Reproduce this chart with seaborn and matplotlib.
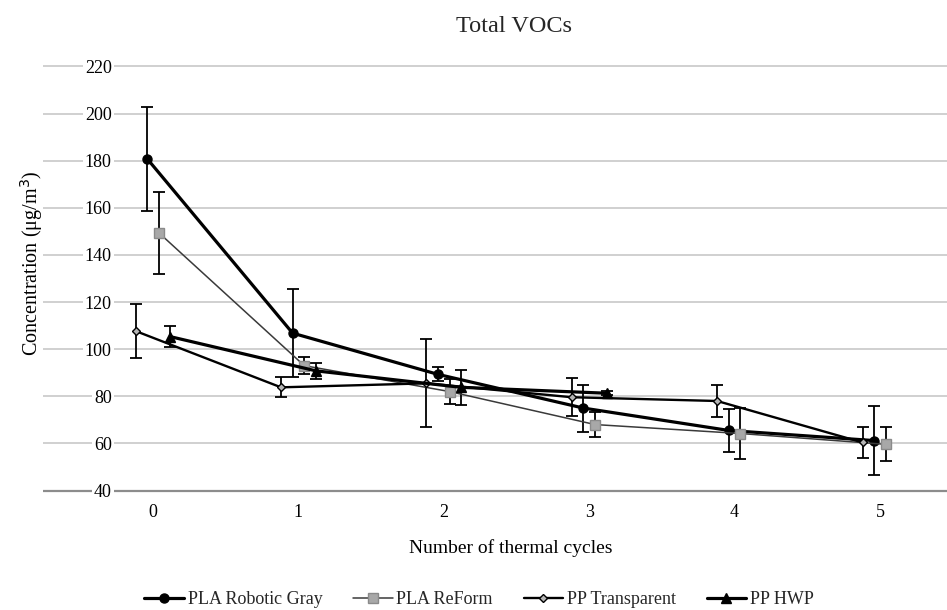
import matplotlib
matplotlib.use("Agg")
import matplotlib.pyplot as plt
import seaborn as sns
import pandas as pd

# values
cycles = [0, 1, 2, 3, 4, 5]
series_names = ["PLA Robotic Gray", "PLA ReForm", "PP Transparent", "PP HWP"]

robotic_gray = [180.8, 106.8, 89.3, 75.0, 65.5, 61.2]
robotic_gray_err = [22.0, 18.7, 3.0, 10.0, 9.0, 14.8]

reform = [149.4, 93.0, 82.0, 68.0, 64.2, 59.6]
reform_err = [17.5, 3.6, 5.3, 5.3, 10.7, 7.2]

pp_transparent = [107.7, 83.8, 85.5, 79.6, 78.0, 60.4]
pp_transparent_err = [11.5, 4.2, 18.7, 8.0, 7.0, 6.6]

pp_hwp_cycles = [0, 1, 2, 3]
pp_hwp = [105.3, 90.8, 83.8, 81.3]
pp_hwp_err = [4.5, 3.3, 7.5, 0.8]

y_ticks = [40, 60, 80, 100, 120, 140, 160, 180, 200, 220]

sns.set_theme(style="white")
plt.rcParams["font.family"] = ["Liberation Serif", "DejaVu Serif"]

fig = plt.figure(figsize=(9.47, 6.10), dpi=100)
ax = fig.add_axes([0.0454, 0.192, 0.9546, 0.7029])

styles = {
    "PLA Robotic Gray": dict(off=-0.04, color="black", lw=2.3, marker="o", ms=6.5, mfc="black", mec="black"),
    "PLA ReForm": dict(off=0.04, color="#3a3a3a", lw=1.1, marker="s", ms=6.5, mfc="#a8a8a8", mec="#8a8a8a"),
    "PP Transparent": dict(off=-0.12, color="black", lw=1.7, marker="D", ms=4.5, mfc="#b5b5b5", mec="black"),
    "PP HWP": dict(off=0.12, color="black", lw=2.3, marker="^", ms=7.5, mfc="black", mec="black"),
}

data = {
    "PLA Robotic Gray": (cycles, robotic_gray, robotic_gray_err),
    "PLA ReForm": (cycles, reform, reform_err),
    "PP Transparent": (cycles, pp_transparent, pp_transparent_err),
    "PP HWP": (pp_hwp_cycles, pp_hwp, pp_hwp_err),
}

for name in series_names:
    xs, ys, es = data[name]
    st = styles[name]
    df = pd.DataFrame({"x": [x + st["off"] for x in xs], "y": ys, "err": es})
    ax.errorbar(df["x"], df["y"], yerr=df["err"], fmt="none", ecolor="black",
                elinewidth=1.3, capsize=4, capthick=1.3, zorder=2)
    sns.lineplot(data=df, x="x", y="y", ax=ax, color=st["color"], linewidth=st["lw"],
                 marker=st["marker"], markersize=st["ms"], markerfacecolor=st["mfc"],
                 markeredgecolor=st["mec"], markeredgewidth=1.0, label=name, zorder=3)

if ax.get_legend() is not None:
    ax.get_legend().remove()

ax.set_xlim(-0.757, 5.461)
ax.set_ylim(39, 221)
ax.set_xticks(cycles)
ax.set_xticklabels([str(c) for c in cycles], fontsize=13)
ax.set_yticks(y_ticks)
ax.set_yticklabels([str(v) for v in y_ticks], fontsize=13)
for lab in ax.get_yticklabels():
    lab.set_bbox(dict(facecolor="white", edgecolor="none", pad=1.5))

ax.set_axisbelow(True)
ax.yaxis.grid(True, color="#c4c4c4", linewidth=1.1)
ax.xaxis.grid(False)
ax.get_ygridlines()[0].set_color("#8c8c8c")
ax.get_ygridlines()[0].set_linewidth(1.6)
for s in ax.spines.values():
    s.set_visible(False)
ax.tick_params(axis="y", length=0, pad=-49.5, colors="black")
ax.tick_params(axis="x", length=0, pad=8, colors="black")

ax.set_xlabel("Number of thermal cycles", fontsize=14, color="black")
ax.xaxis.set_label_coords(0.5177, -0.1075)
ax.set_ylabel("Concentration (μg/m$^3$)", fontsize=14.5, color="black")
ax.yaxis.set_label_coords(0.002, 0.535)

fig.text(514 / 947, 1 - 27 / 610, "Total VOCs", ha="center", va="center", fontsize=17.5)

handles, labels = ax.get_legend_handles_labels()
fig.legend(handles, labels, loc="center", bbox_to_anchor=(479 / 947, 1 - 600 / 610),
           ncol=4, frameon=False, fontsize=13, handlelength=2.2, handletextpad=0.2,
           columnspacing=1.7)

fig.savefig("out.png", dpi=100)
